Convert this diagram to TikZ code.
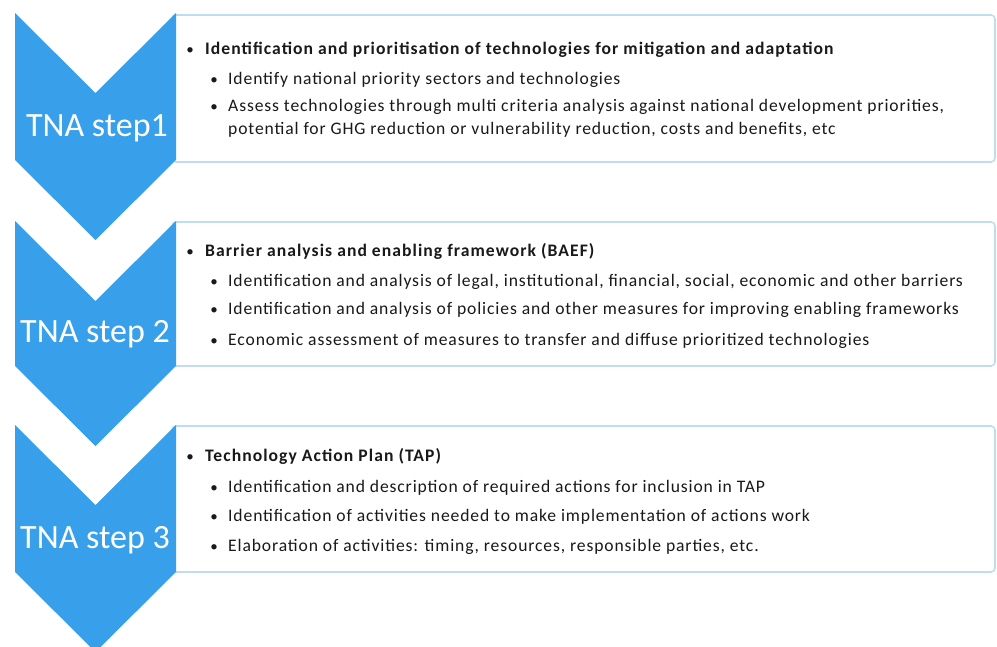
\documentclass[tikz,border=0pt]{standalone}
\usepackage{fontspec}
\setmainfont{Carlito}
\newfontfamily\boxfont[LetterSpace=5]{Carlito}
\newfontfamily\headfont[LetterSpace=6]{Carlito}
\definecolor{chev}{RGB}{56,160,234}
\definecolor{boxline}{RGB}{192,221,240}
\definecolor{txt}{RGB}{25,25,25}
\begin{document}
\begin{tikzpicture}[x=1pt,y=-1pt,
  chevron/.style={fill=chev,draw=none},
  infobox/.style={draw=boxline,line width=1.6pt,rounded corners=4pt,fill=white},
  steplabel/.style={text=white,font=\fontsize{34}{34}\selectfont,anchor=base,inner sep=0},
  head/.style={text=txt,font=\headfont\fontsize{17.6}{20}\selectfont\bfseries,anchor=base west,inner sep=0},
  item/.style={text=txt,font=\boxfont\fontsize{17.6}{20}\selectfont,anchor=base west,inner sep=0},
  dot/.style={text=txt,font=\fontsize{15}{18}\selectfont,anchor=base,inner sep=0}]
\useasboundingbox (0,0) rectangle (997,647);
\begin{scope}
\clip (0,0) rectangle (997,647);
% boxes
\draw[infobox] (172,15) rectangle (995,162);
\draw[infobox] (172,222) rectangle (995,366);
\draw[infobox] (172,426) rectangle (995,572);
% chevrons
\fill[chevron] (15,13) -- (95.5,93) -- (176,13) -- (176,160) -- (95.5,240) -- (15,160) -- cycle;
\fill[chevron] (15,221) -- (95.5,301) -- (176,221) -- (176,366) -- (95.5,446) -- (15,366) -- cycle;
\fill[chevron] (15,425) -- (95.5,505) -- (176,425) -- (176,572) -- (95.5,652) -- (15,572) -- cycle;
\end{scope}
\node[steplabel] (s1) at (97,137) {TNA step1};
\node[steplabel] (s2) at (95,343) {TNA step 2};
\node[steplabel] (s3) at (95,548) {TNA step 3};
% box 1
\node[dot] (b1) at (190,55) {•};
\node[head] (h1) at (205,55) {Identification and prioritisation of technologies for mitigation and adaptation};
\node[dot] (b11) at (214,85) {•};
\node[item] (t11) at (228,85) {Identify national priority sectors and technologies};
\node[dot] (b12) at (214,112) {•};
\node[item] (t12) at (228,112) {Assess technologies through multi criteria analysis against national development priorities,};
\node[item] (t12b) at (228,135) {potential for GHG reduction or vulnerability reduction, costs and benefits, etc};
% box 2
\node[dot] (b2) at (190,257) {•};
\node[head] (h2) at (205,257) {Barrier analysis and enabling framework (BAEF)};
\node[dot] (b21) at (214,287) {•};
\node[item] (t21) at (228,287) {Identification and analysis of legal, institutional, financial, social, economic and other barriers};
\node[dot] (b22) at (214,315) {•};
\node[item] (t22) at (228,315) {Identification and analysis of policies and other measures for improving enabling frameworks};
\node[dot] (b23) at (214,345) {•};
\node[item] (t23) at (228,345) {Economic assessment of measures to transfer and diffuse prioritized technologies};
% box 3
\node[dot] (b3) at (190,461) {•};
\node[head] (h3) at (205,461) {Technology Action Plan (TAP)};
\node[dot] (b31) at (214,492) {•};
\node[item] (t31) at (228,492) {Identification and description of required actions for inclusion in TAP};
\node[dot] (b32) at (214,521) {•};
\node[item] (t32) at (228,521) {Identification of activities needed to make implementation of actions work};
\node[dot] (b33) at (214,551) {•};
\node[item] (t33) at (228,551) {Elaboration of activities: timing, resources, responsible parties, etc.};
\end{tikzpicture}
\end{document}
